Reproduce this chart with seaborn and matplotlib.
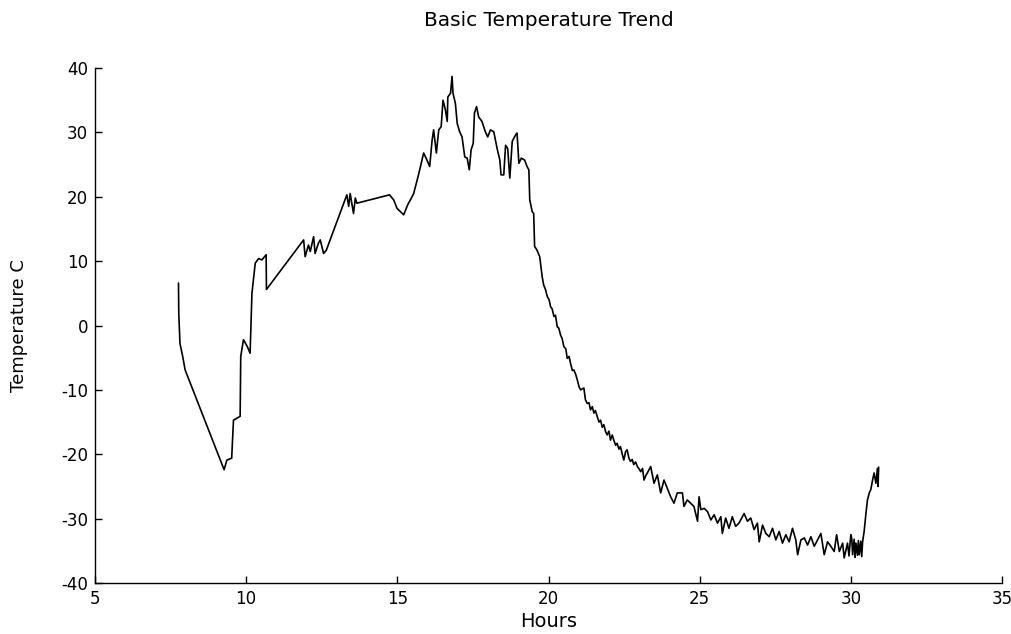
import matplotlib
matplotlib.use('Agg')
import matplotlib.pyplot as plt
import pandas as pd
import seaborn as sns

# first drop and slow climb up to ~20 C
rise_hours = [7.76, 7.77, 7.81, 7.90, 7.98, 9.27, 9.36, 9.52, 9.58, 9.80,
              9.82, 9.91, 10.04, 10.13, 10.19, 10.30, 10.41, 10.52, 10.66, 10.67,
              11.90, 11.95, 12.06, 12.12, 12.23, 12.28, 12.39, 12.45, 12.56, 12.65,
              13.33, 13.39, 13.44, 13.55, 13.61, 13.66, 14.74, 14.88, 14.99, 15.10,
              15.21, 15.32, 15.37]
rise_temp = [6.6, 1.9, -2.8, -4.8, -6.9, -22.4, -20.9, -20.6, -14.7, -14.1,
             -4.8, -2.2, -3.3, -4.3, 5.0, 9.7, 10.4, 10.2, 11.0, 5.6,
             13.3, 10.7, 12.5, 11.5, 13.8, 11.2, 12.8, 13.3, 11.2, 11.7,
             20.3, 18.5, 20.5, 17.4, 19.8, 19.0, 20.3, 19.5, 18.2, 17.7,
             17.2, 18.5, 19.0]

# noisy peak
peak_hours = [15.43, 15.54, 15.71, 15.87, 15.98, 16.07, 16.15, 16.20, 16.29, 16.37,
              16.45, 16.51, 16.59, 16.65, 16.67, 16.76, 16.81, 16.84, 16.92, 16.98,
              17.06, 17.14, 17.23, 17.31, 17.38, 17.44, 17.51, 17.55, 17.62, 17.69,
              17.80, 17.91, 17.99, 18.08, 18.19, 18.30, 18.39, 18.43, 18.52, 18.58,
              18.65, 18.72, 18.80, 18.91, 18.96, 19.02, 19.10, 19.21, 19.29, 19.35]
peak_temp = [19.5, 20.5, 23.6, 26.8, 25.7, 24.7, 28.8, 30.4, 26.8, 30.4,
             30.9, 35.0, 33.5, 31.7, 35.5, 36.1, 38.7, 36.1, 34.5, 31.4,
             30.1, 29.3, 26.2, 26.0, 24.2, 27.3, 28.3, 33.0, 34.0, 32.4,
             31.7, 30.1, 29.3, 30.4, 30.1, 27.5, 25.7, 23.4, 23.4, 28.0,
             27.5, 22.9, 28.6, 29.6, 29.9, 25.2, 26.0, 25.7, 24.7, 24.2]

# cool down
cool_hours = [19.38, 19.46, 19.51, 19.54, 19.62, 19.71, 19.79, 19.84, 19.90, 19.96,
              20.02, 20.07, 20.12, 20.18, 20.23, 20.29, 20.34, 20.40, 20.45, 20.51,
              20.57, 20.62, 20.68, 20.73, 20.79, 20.84, 20.90, 20.95, 21.01, 21.06,
              21.17, 21.22, 21.28, 21.34, 21.39, 21.45, 21.50, 21.55, 21.61, 21.67,
              21.72, 21.78, 21.83, 21.89, 21.94, 22.00, 22.05, 22.11, 22.16, 22.22,
              22.27, 22.33, 22.38, 22.44, 22.49, 22.55, 22.60, 22.66, 22.71, 22.77,
              22.82, 22.88, 22.94, 23.00, 23.05, 23.11, 23.16, 23.22, 23.27]
cool_temp = [19.5, 17.7, 17.4, 12.3, 11.7, 10.7, 7.6, 6.3, 5.6, 4.5,
             4.0, 2.9, 2.6, 1.4, 1.6, -0.2, -0.4, -1.5, -2.0, -3.3,
             -3.6, -5.1, -4.8, -5.9, -7.0, -6.9, -7.6, -8.4, -9.5, -10.0,
             -9.7, -11.5, -12.1, -12.0, -13.1, -12.6, -13.6, -13.2, -14.1, -15.0,
             -14.7, -15.8, -15.4, -16.5, -17.0, -16.4, -17.8, -17.0, -17.8, -18.6,
             -18.3, -19.2, -18.8, -20.0, -20.9, -19.6, -19.3, -20.6, -21.1, -20.8,
             -21.6, -21.2, -21.9, -22.3, -22.7, -22.2, -24.0, -23.3, -22.9]

# cold tail and recovery at the end
tail_hours = [23.38, 23.49, 23.60, 23.71, 23.82, 23.93, 24.04, 24.15, 24.26, 24.43,
              24.48, 24.59, 24.70, 24.81, 24.93, 24.98, 25.04, 25.15, 25.26, 25.37,
              25.48, 25.59, 25.70, 25.75, 25.86, 25.97, 26.08, 26.19, 26.30, 26.47,
              26.58, 26.69, 26.80, 26.91, 26.97, 27.08, 27.19, 27.30, 27.41, 27.52,
              27.63, 27.74, 27.85, 27.96, 28.07, 28.18, 28.24, 28.35, 28.46, 28.57,
              28.68, 28.79, 28.90, 29.01, 29.12, 29.23, 29.34, 29.45, 29.53, 29.62,
              29.73, 29.78, 29.89, 29.94, 30.00, 30.03, 30.06, 30.11, 30.14, 30.17,
              30.22, 30.25, 30.28, 30.33, 30.36, 30.39, 30.44, 30.50, 30.55, 30.61,
              30.66, 30.72, 30.77, 30.83, 30.88, 30.90, 30.92]
tail_temp = [-21.9, -24.5, -23.2, -26.0, -24.0, -25.3, -26.6, -27.6, -26.0, -26.0,
             -28.1, -27.1, -27.6, -28.1, -30.4, -26.6, -28.6, -28.4, -28.9, -30.2,
             -29.4, -30.7, -29.7, -32.3, -29.9, -31.5, -29.7, -31.2, -30.7, -29.2,
             -30.4, -29.9, -31.7, -30.7, -33.6, -31.0, -32.3, -32.8, -31.5, -33.3,
             -32.0, -33.8, -32.5, -33.6, -31.5, -33.3, -35.6, -33.3, -33.0, -34.1,
             -32.8, -34.3, -33.3, -32.3, -35.6, -33.6, -34.3, -35.1, -32.5, -35.1,
             -33.8, -36.1, -33.8, -35.8, -32.5, -33.0, -35.6, -33.2, -36.0, -33.8,
             -35.7, -33.4, -35.6, -33.5, -35.9, -33.6, -32.0, -29.2, -27.1, -26.0,
             -25.5, -24.0, -22.9, -24.5, -22.2, -25.0, -22.0]

x_ticks = [5, 10, 15, 20, 25, 30, 35]
y_ticks = [-40, -30, -20, -10, 0, 10, 20, 30, 40]

df = pd.DataFrame({
    'hours': rise_hours + peak_hours + cool_hours + tail_hours,
    'temp': rise_temp + peak_temp + cool_temp + tail_temp,
})

sns.set_style('ticks')
plt.rcParams['font.family'] = ['DejaVu Sans']
plt.rcParams['axes.unicode_minus'] = False
plt.rcParams['xtick.direction'] = 'in'
plt.rcParams['ytick.direction'] = 'in'
plt.rcParams['text.color'] = 'black'
plt.rcParams['axes.labelcolor'] = 'black'

fig = plt.figure(figsize=(10.12, 6.34), dpi=100)
ax = fig.add_axes([0.0939, 0.0804, 0.8962, 0.8123])

sns.lineplot(data=df, x='hours', y='temp', sort=False, estimator=None,
             color='black', linewidth=1.2, ax=ax)

ax.set_xlim(5, 35)
ax.set_ylim(-40, 40)
ax.set_xticks(x_ticks)
ax.set_yticks(y_ticks)
ax.tick_params(length=5, width=1, labelsize=12, colors='black', pad=5)
for s in ['top', 'right']:
    ax.spines[s].set_visible(False)
for s in ['left', 'bottom']:
    ax.spines[s].set_color('black')
    ax.spines[s].set_linewidth(1)

ax.set_xlabel('Hours', fontsize=14, color='black')
ax.set_ylabel('Temperature C', fontsize=13, color='black')
ax.xaxis.set_label_coords(0.5, -0.057)
ax.yaxis.set_label_coords(-0.074, 0.5)
ax.set_title('Basic Temperature Trend', fontsize=14.5, pad=30, color='black')

fig.savefig('out.png', dpi=100)
